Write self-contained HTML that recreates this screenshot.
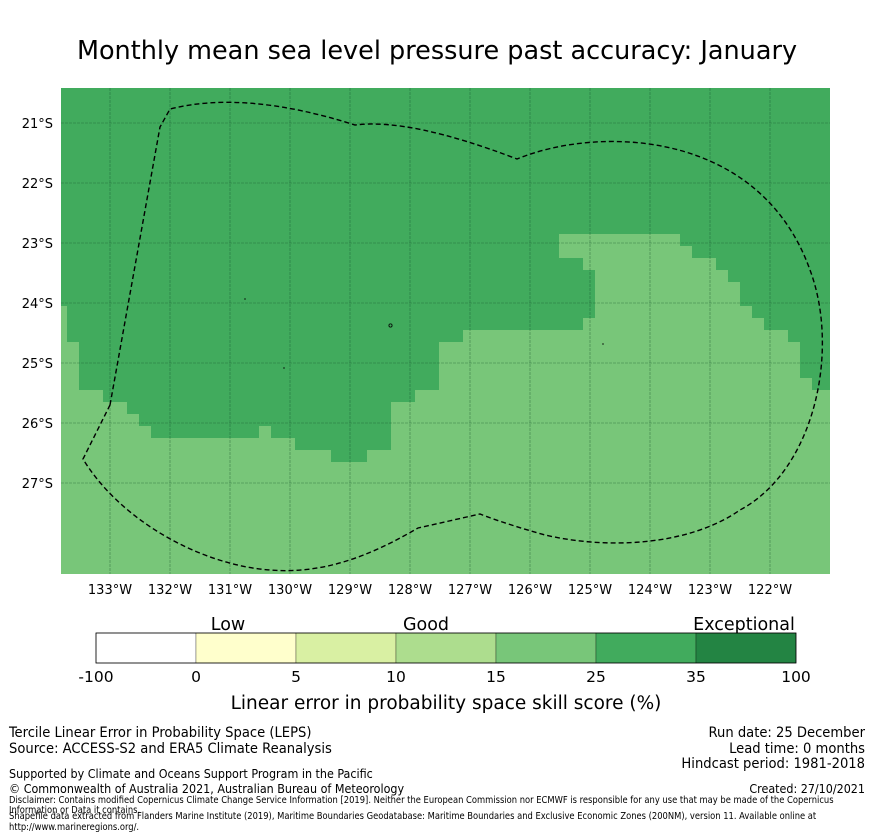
<!DOCTYPE html>
<html><head><meta charset="utf-8">
<style>
body{margin:0;background:#fff;width:873px;height:839px;overflow:hidden;font-family:"DejaVu Sans","Liberation Sans",sans-serif;}
svg{position:absolute;left:0;top:0}
.ft{font-family:"DejaVu Sans","Liberation Sans",sans-serif;font-stretch:condensed}
</style></head><body>
<svg id="chart" width="873" height="839">
<text x="437" y="59" text-anchor="middle" font-size="25.5" fill="#000">Monthly mean sea level pressure past accuracy: January</text>
<g>
<rect x="61" y="88" width="769" height="486" fill="#41ab5d"/>
<polygon fill="#78c679" points="61,306 67,306 67,342 79,342 79,390 103,390 103,402 127,402 127,414 139,414 139,426 151,426 151,438 259,438 259,426 271,426 271,438 295,438 295,450 331,450 331,462 367,462 367,450 391,450 391,402 415,402 415,390 439,390 439,342 463,342 463,330 583,330 583,318 595,318 595,270 583,270 583,258 559,258 559,234 680,234 680,246 692,246 692,258 716,258 716,270 728,270 728,282 740,282 740,306 752,306 752,318 764,318 764,330 788,330 788,342 800,342 800,378 812,378 812,390 830,390 830,574 61,574"/>
<g id="grid"></g>
<path fill="none" stroke="#000" stroke-width="1.4" stroke-dasharray="5,3"
d="M110,405 L160,127 L170,109 Q245,90 355,125 Q410,118 517,159 C600,125 760,130 810,270 C840,350 815,470 740,510 C690,545 610,550 545,535 C520,528 495,520 480,514 L418,528 C380,550 330,575 270,570 C200,565 120,520 83,459 Z"/>
<g fill="none" stroke="#000" stroke-width="0.8">
<circle cx="390.5" cy="325.5" r="1.6"/><line x1="244" y1="299" x2="246" y2="299"/><line x1="283" y1="368" x2="285" y2="368"/><line x1="602" y1="344" x2="604" y2="344"/>
</g>
</g>
<g id="axes" font-size="13" fill="#000"></g>
<g id="cbar"></g>
<text x="446" y="709" text-anchor="middle" font-size="18.5">Linear error in probability space skill score (%)</text>
</svg>
<div class="ft" style="position:absolute;left:9px;top:725px;font-size:14.6px;line-height:15.5px">Tercile Linear Error in Probability Space (LEPS)<br>Source: ACCESS-S2 and ERA5 Climate Reanalysis</div>
<div class="ft" style="position:absolute;right:8px;top:725px;font-size:14.6px;line-height:15.5px;text-align:right">Run date: 25 December<br>Lead time: 0 months<br>Hindcast period: 1981-2018</div>
<div class="ft" style="position:absolute;left:9px;top:766px;font-size:12.4px">Supported by Climate and Oceans Support Program in the Pacific</div>
<div class="ft" style="position:absolute;left:9px;top:781px;font-size:12.4px">© Commonwealth of Australia 2021, Australian Bureau of Meteorology</div>
<div class="ft" style="position:absolute;right:8px;top:781px;font-size:12.4px">Created: 27/10/2021</div>
<div class="ft" style="position:absolute;left:9px;top:796px;width:862px;font-size:9.3px;line-height:9.5px">Disclaimer: Contains modified Copernicus Climate Change Service Information [2019]. Neither the European Commission nor ECMWF is responsible for any use that may be made of the Copernicus Information or Data it contains.</div>
<div class="ft" style="position:absolute;left:9px;top:812px;width:862px;font-size:9.3px;line-height:10.5px">Shapefile data extracted from Flanders Marine Institute (2019), Maritime Boundaries Geodatabase: Maritime Boundaries and Exclusive Economic Zones (200NM), version 11. Available online at http://www.marineregions.org/.</div>
<script>
const lonTicks=[133,132,131,130,129,128,127,126,125,124,123,122];
const latTicks=[21,22,23,24,25,26,27];
const cbarColors=["#ffffff","#ffffcc","#d9f0a3","#addd8e","#78c679","#41ab5d","#238443"];
const cbarLabels=["-100","0","5","10","15","25","35","100"];
const cbarCategories=["Low","Good","Exceptional"];
const NS="http://www.w3.org/2000/svg";
const xLon=l=>110+(133-l)*60, yLat=l=>123+(l-21)*60;
const grid=document.getElementById('grid'), axes=document.getElementById('axes'), cb=document.getElementById('cbar');
function mk(tag,attrs,parent){const e=document.createElementNS(NS,tag);for(const k in attrs)e.setAttribute(k,attrs[k]);parent.appendChild(e);return e;}
lonTicks.forEach(l=>{
 const x=xLon(l);
 const g=mk('line',{x1:x,x2:x,y1:88,y2:574,stroke:"#14502a","stroke-width":0.6,"stroke-dasharray":"3,1","stroke-opacity":0.6},grid);
 
 
 const t=mk('text',{x:x,y:594,"text-anchor":"middle"},axes);t.textContent=l+"°W";
 
 
});
latTicks.forEach(l=>{
 const y=yLat(l);
 const g=mk('line',{x1:61,x2:830,y1:y,y2:y,stroke:"#14502a","stroke-width":0.6,"stroke-dasharray":"3,1","stroke-opacity":0.6},grid);
 
 
 const t=mk('text',{x:53,y:y+5,"text-anchor":"end"},axes);t.textContent=l+"°S";
 
 
});
const cx0=96,cw=100,cy=633,ch=30;
cbarColors.forEach((c,i)=>{
 const r=mk('rect',{x:cx0+i*cw,y:cy,width:cw,height:ch,fill:c,stroke:"#000","stroke-width":0.3},cb);
 
 
});
mk('rect',{x:cx0,y:cy,width:cw*cbarColors.length,height:ch,fill:"none",stroke:"#000","stroke-width":0.8},cb);
cbarLabels.forEach((s,i)=>{
 const t=mk('text',{x:cx0+i*cw,y:682,"text-anchor":"middle","font-size":15.5},cb);t.textContent=s;
 
 
});
const catX=[228,426,744];
cbarCategories.forEach((s,i)=>{
 const t=mk('text',{x:catX[i],y:630,"text-anchor":"middle","font-size":17.5},cb);t.textContent=s;
 
 
});
</script>
</body></html>
